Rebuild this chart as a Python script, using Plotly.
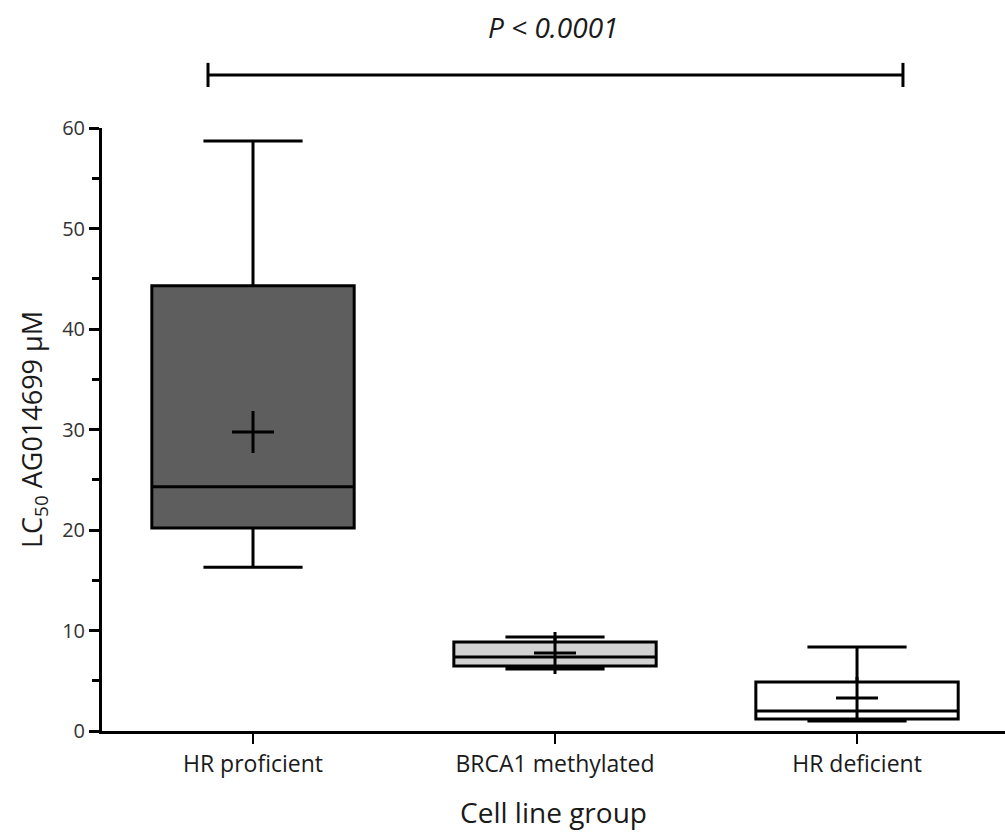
import plotly.graph_objects as go

# Summary statistics of LC50 (µM) per cell line group
groups = ["HR proficient", "BRCA1 methylated", "HR deficient"]
upper_fence = [58.7, 9.35, 8.36]
q3 = [44.3, 8.85, 4.88]
median = [24.3, 7.36, 1.99]
q1 = [20.2, 6.47, 1.19]
lower_fence = [16.3, 6.17, 1.0]
mean = [29.75, 7.76, 3.28]
fill_colors = ["#5e5e5e", "#d2d2d2", "#ffffff"]

y_ticks = [0, 10, 20, 30, 40, 50, 60]
p_label = "P < 0.0001"

FONT = "Open Sans"

fig = go.Figure()

for i, g in enumerate(groups):
    fig.add_trace(go.Box(
        x=[g],
        q1=[q1[i]], median=[median[i]], q3=[q3[i]],
        lowerfence=[lower_fence[i]], upperfence=[upper_fence[i]],
        width=0.67,
        whiskerwidth=0.49,
        fillcolor=fill_colors[i],
        line=dict(color="black", width=3),
        boxpoints=False,
        hoverinfo="skip",
        showlegend=False,
    ))

# Mean markers drawn as crosses
fig.add_trace(go.Scatter(
    x=groups, y=mean, mode="markers",
    marker=dict(symbol="cross-thin", size=30,
                line=dict(color="black", width=3), color="black"),
    showlegend=False, hoverinfo="skip",
))

# Significance bracket across the groups
bx0, bx1, by = 0.1174, 0.887, 1.088
fig.add_shape(type="line", xref="paper", yref="paper",
              x0=bx0, x1=bx1, y0=by, y1=by, line=dict(color="black", width=3))
for bx in (bx0, bx1):
    fig.add_shape(type="line", xref="paper", yref="paper",
                  x0=bx, x1=bx, y0=by - 0.02, y1=by + 0.02,
                  line=dict(color="black", width=3))
fig.add_annotation(text=p_label, xref="paper", yref="paper",
                   x=0.5, y=1.168, yanchor="middle", showarrow=False,
                   font=dict(family=FONT, size=28, color="#1a1a1a",
                             style="italic"))

fig.update_layout(
    width=1005, height=834,
    margin=dict(l=102, r=0, t=128, b=103),
    paper_bgcolor="white", plot_bgcolor="white",
    font=dict(family=FONT, color="#1a1a1a"),
    xaxis=dict(
        type="category", categoryorder="array", categoryarray=groups,
        range=[-0.5, 2.49],
        showline=True, linecolor="black", linewidth=3,
        ticks="outside", ticklen=10, tickwidth=2, tickcolor="black",
        tickfont=dict(size=23),
        showgrid=False, zeroline=False,
        title=dict(text="Cell line group", font=dict(size=28), standoff=26),
    ),
    yaxis=dict(
        range=[0, 60], tickvals=y_ticks,
        showline=True, linecolor="black", linewidth=3,
        ticks="outside", ticklen=10, tickwidth=3, tickcolor="black",
        minor=dict(dtick=5, ticks="outside", ticklen=7, tickwidth=3,
                   tickcolor="black", showgrid=False),
        tickfont=dict(size=20, color="#333333"),
        showgrid=False, zeroline=False,
        title=dict(text="LC<sub>50</sub> AG014699 µM", font=dict(size=27),
                   standoff=12),
    ),
)

fig.write_html("out.html")
